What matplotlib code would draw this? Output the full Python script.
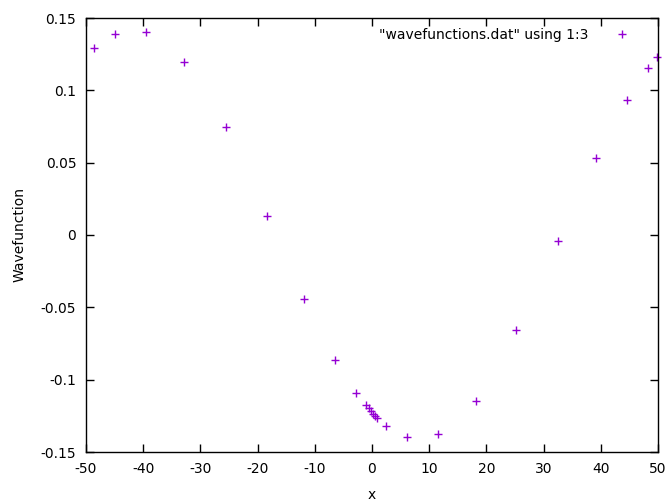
import matplotlib.pyplot as plt
import numpy as np

PURPLE = "#9400d3"

x = [-48.6, -44.9, -39.5, -32.9, -25.5, -18.4, -11.9, -6.5, -2.8,
     -1.0, -0.6, -0.2, 0.2, 0.5, 0.9,
     2.45, 6.1, 11.5, 18.2, 25.2, 32.5, 39.2, 44.6, 48.3, 49.8]
psi = [0.129, 0.139, 0.140, 0.1196, 0.0747, 0.0131, -0.0442, -0.0864, -0.109,
       -0.1178, -0.1198, -0.1218, -0.1236, -0.1250, -0.1265,
       -0.132, -0.1396, -0.1376, -0.1147, -0.0657, -0.0041, 0.0532, 0.0933, 0.1154, 0.123]

xticks = np.arange(-50, 51, 10)
yticks = [-0.15, -0.1, -0.05, 0, 0.05, 0.1, 0.15]
yticklabels = ["-0.15", "-0.1", "-0.05", "0", "0.05", "0.1", "0.15"]

fig = plt.figure(figsize=(6.72, 5.01), dpi=100)
ax = fig.add_axes([86 / 672, 1 - 452 / 501, (658 - 86) / 672, (452 - 18) / 501])

ax.plot(x, psi, linestyle="none", marker="+", color=PURPLE, markersize=5.5,
        markeredgewidth=1.0, label='"wavefunctions.dat" using 1:3', clip_on=False)

ax.set_xlim(-50, 50)
ax.set_ylim(-0.15, 0.15)
ax.set_xticks(xticks)
ax.set_xticklabels([str(t) for t in xticks])
ax.set_yticks(yticks)
ax.set_yticklabels(yticklabels)
ax.tick_params(direction="in", top=True, right=True, length=6, width=1,
               labelsize=10, pad=7)
for sp in ax.spines.values():
    sp.set_linewidth(1.0)

ax.set_xlabel("x", fontsize=10, labelpad=9)
ax.set_ylabel("Wavefunction", fontsize=10, labelpad=10)

ax.legend(loc="upper right", frameon=False, markerfirst=False, fontsize=10,
          handlelength=2.5, handletextpad=1.2, borderaxespad=0.3,
          bbox_to_anchor=(0.985, 1.0))

fig.savefig("out.png", dpi=100, facecolor="white")
